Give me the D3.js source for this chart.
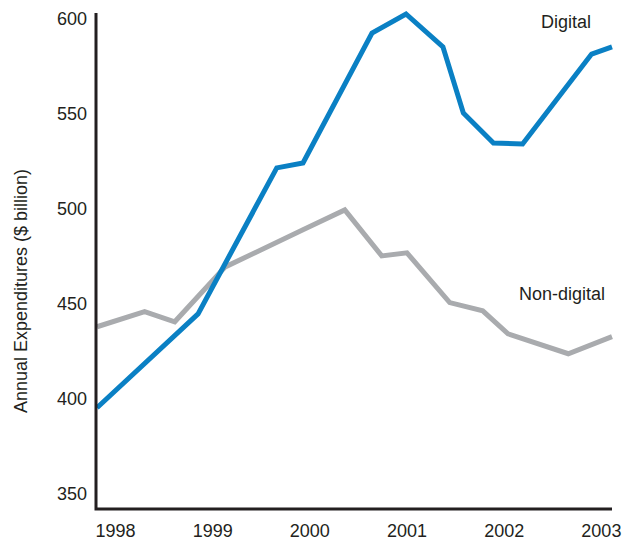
<!DOCTYPE html>
<html>
<head>
<meta charset="utf-8">
<script src="https://cdn.jsdelivr.net/npm/d3@7"></script>
<style>
  body { margin: 0; background: #fff; }
  text { font-family: "Liberation Sans", Arial, sans-serif; fill: #231f20; }
</style>
</head>
<body>
<div id="chart"></div>
<script>
var yearTicks = [1998, 1999, 2000, 2001, 2002, 2003];
var valueTicks = [350, 400, 450, 500, 550, 600];

// digital series: [time (fractional year), $ billion]
var digitalTime = [1998.00, 1999.04, 1999.85, 2000.12, 2000.83, 2001.18, 2001.56, 2001.77, 2002.08, 2002.38, 2003.09, 2003.30];
var digitalValue = [395.3, 444.7, 521.5, 524.1, 592.5, 602.5, 585.2, 550.4, 534.6, 534.1, 581.4, 585.2];

var nonDigitalTime = [1998.00, 1998.49, 1998.80, 1999.32, 2000.12, 2000.55, 2000.93, 2001.19, 2001.63, 2001.97, 2002.23, 2002.85, 2003.30];
var nonDigitalValue = [437.9, 445.8, 440.5, 469.4, 488.9, 499.4, 475.2, 476.8, 450.6, 446.3, 434.2, 423.7, 432.7];

createchart();

function createchart() {
  var width = 632;
  var height = 542;

  var svg = d3.select("#chart").append("svg")
    .attr("width", width)
    .attr("height", height);

  var x = d3.scaleLinear().domain([1998, 2003.3]).range([97, 612]);
  var y = d3.scaleLinear().domain([342, 603]).range([509, 13]);

  var line = d3.line()
    .x(function(d) { return x(d[0]); })
    .y(function(d) { return y(d[1]); });

  var digital = d3.zip(digitalTime, digitalValue);
  var nonDigital = d3.zip(nonDigitalTime, nonDigitalValue);

  svg.append("path")
    .attr("d", line(nonDigital))
    .attr("fill", "none")
    .attr("stroke", "#a9abae")
    .attr("stroke-width", 5)
    .attr("stroke-linejoin", "miter");

  svg.append("path")
    .attr("d", line(digital))
    .attr("fill", "none")
    .attr("stroke", "#0a80c4")
    .attr("stroke-width", 5)
    .attr("stroke-linejoin", "miter");

  // axis frame
  svg.append("path")
    .attr("d", "M" + (x(1998) - 1) + "," + y(603) + "V" + y(342) + "H" + x(2003.3))
    .attr("fill", "none")
    .attr("stroke", "#231f20")
    .attr("stroke-width", 3);

  var yAxis = svg.append("g")
    .attr("transform", "translate(" + (x(1998) - 1) + ",0)")
    .call(d3.axisLeft(y).tickValues(valueTicks).tickSize(0).tickPadding(9).tickFormat(d3.format("d")));
  yAxis.select(".domain").remove();
  yAxis.selectAll("text")
    .style("font-size", "18px")
    .style("font-family", "'Liberation Sans', Arial, sans-serif")
    .attr("fill", "#231f20");

  var xAxis = svg.append("g")
    .attr("transform", "translate(0," + y(342) + ")")
    .call(d3.axisBottom(x).tickValues(yearTicks).tickSize(0).tickPadding(15).tickFormat(d3.format("d")));
  xAxis.select(".domain").remove();
  xAxis.selectAll("text")
    .attr("text-anchor", "start")
    .attr("x", -2)
    .style("font-size", "18px")
    .style("font-family", "'Liberation Sans', Arial, sans-serif")
    .attr("fill", "#231f20");

  svg.append("text")
    .attr("transform", "translate(27,291) rotate(-90)")
    .attr("text-anchor", "middle")
    .style("font-size", "18px")
    .text("Annual Expenditures ($ billion)");

  svg.append("text")
    .attr("x", 541)
    .attr("y", 28)
    .style("font-size", "18px")
    .text("Digital");

  svg.append("text")
    .attr("x", 519)
    .attr("y", 300)
    .style("font-size", "18px")
    .text("Non-digital");
}
</script>
</body>
</html>
